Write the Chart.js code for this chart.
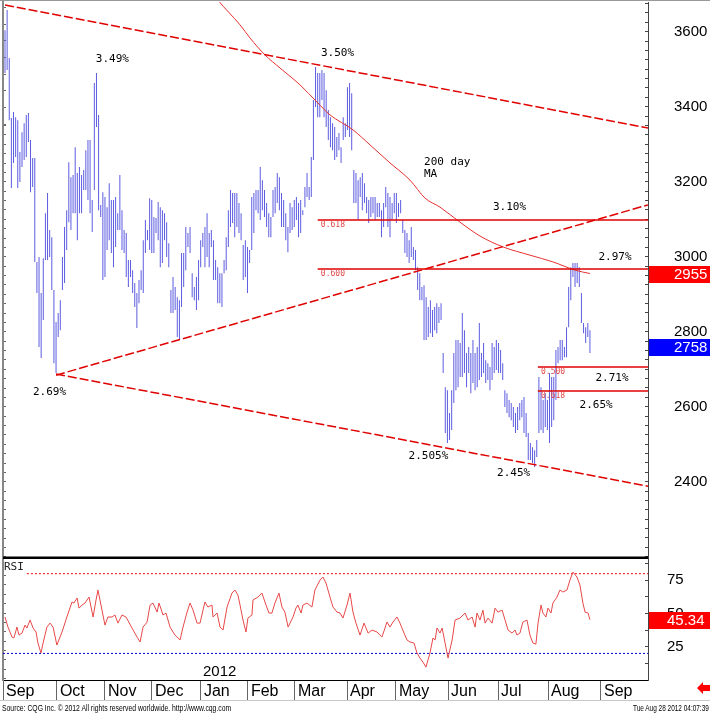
<!DOCTYPE html>
<html>
<head>
<meta charset="utf-8">
<script src="https://cdn.jsdelivr.net/npm/chart.js@4.4.1/dist/chart.umd.min.js"></script>
<style>
  body { margin: 0; background: #fff; }
  #wrap { position: relative; width: 710px; height: 716px; overflow: hidden; background: #fff; }
  canvas { position: absolute; left: 0; top: 0; }
  .foot { position: absolute; top: 703px; font: 9px "Liberation Sans Narrow", "Liberation Sans", Arial, sans-serif; white-space: nowrap; color: #000; transform-origin: 0 0; }
  #rule { position: absolute; left: 0; top: 700px; width: 710px; height: 1px; background: #c8c8c8; }
  #topline { position: absolute; left: 0; top: 0; width: 710px; height: 1px; background: #999; }
  #arrow { position: absolute; left: 697px; top: 682px; }
</style>
</head>
<body>
<div id="wrap">
  <canvas id="chart" width="710" height="716"></canvas>
  <div id="topline"></div>
  <div id="rule"></div>
  <svg id="arrow" width="13" height="12"><polygon points="0,6 6,0 6,3 13,3 13,9 6,9 6,12" fill="#f00"/></svg>
  <div id="src" class="foot">Source: CQG Inc. © 2012 All rights reserved worldwide. http://www.cqg.com</div>
  <div id="stamp" class="foot">Tue Aug 28 2012 04:07:39</div>
</div>
<script>
// --- DATA ---
// x values are trading-day indexes (0 = first bar)
const monthNames = ["Sep", "Oct", "Nov", "Dec", "Jan", "Feb", "Mar", "Apr", "May", "Jun", "Jul", "Aug", "Sep"];
const monthIdx = [-0.94, 24.4, 47.0, 69.1, 92.1, 114.2, 136.3, 160.8, 183.8, 208.3, 231.8, 255.3, 280.2];
const xMin = -0.94, xMax = 302.3;
const yearText = "2012", yearIdx = 93.1;

// daily bars, high / low
const highs = [3604,3658,3530,3370,3386,3372,3364,3279,3332,3356,3378,3383,3311,3263,3263,2986,2999,2903,2996,3116,
  3170,3071,3052,2911,2826,2850,2884,2999,3079,3124,3252,3212,3218,3292,3223,3239,3218,3231,3284,3311,
  3311,3151,3463,3490,3378,3138,3172,3159,3132,3196,3151,3151,3159,3116,3218,3124,3071,3063,2991,2991,
  2964,2930,2903,2938,2964,3044,3098,3071,3156,3151,3106,3103,3146,3132,3124,3116,3092,3036,2911,2946,
  2919,2892,2884,3010,3010,3079,3063,3079,2956,2919,2946,2991,3044,3063,3079,3116,3063,3071,3044,2991,
  2972,2956,2956,2991,3052,3124,3178,3170,3170,3170,3143,3116,3031,3044,3026,3018,3159,3170,3178,3178,
  3239,3204,3178,3143,3116,3106,3178,3186,3223,3212,3170,3151,3116,3079,3143,3132,3151,3159,3143,3151,
  3124,3186,3223,3186,3266,3418,3506,3490,3490,3498,3490,3444,3391,3372,3356,3346,3319,3330,3292,3372,
  3356,3452,3463,3436,3231,3223,3204,3212,3223,3196,3159,3151,3159,3159,3159,3143,3143,3124,3143,3186,
  3170,3159,3143,3170,3170,3143,3151,3098,3071,3063,3044,3079,3026,3018,2972,2956,2919,2924,2892,2866,
  2884,2858,2866,2876,2866,2876,2743,2652,2644,2583,2644,2743,2778,2778,2770,2850,2804,2743,2759,2743,
  2778,2743,2759,2823,2743,2770,2724,2716,2706,2770,2759,2778,2770,2751,2716,2644,2636,2618,2610,2599,
  2583,2599,2610,2618,2626,2583,2530,2503,2492,2484,2511,2679,2652,2618,2636,2618,2690,2679,2679,2751,
  2759,2778,2778,2759,2812,2919,2972,2983,2983,2983,2972,2903,2823,2812,2823,2804];
const lows = [3490,3498,3364,3183,3250,3266,3183,3199,3239,3258,3266,3306,3172,3186,2986,2903,2759,2730,2831,2991,
  2991,2999,2911,2716,2690,2786,2804,2911,2930,3018,3092,3071,3116,3116,3044,3116,3116,3178,3178,3151,
  3116,3066,3178,3346,3124,3106,2938,2946,3018,3044,3010,2972,3026,3071,3071,3018,3010,2946,2919,2946,
  2903,2866,2810,2876,2911,2903,3010,3044,3018,3010,3010,3063,3044,2972,2983,3044,2999,2972,2850,2850,
  2858,2786,2778,2866,2919,2964,3026,3010,2892,2884,2858,2884,2972,3026,2972,2999,2972,3026,2938,2938,
  2876,2876,2866,2956,2964,3026,3079,3090,3052,3079,3063,3044,2938,2946,2903,2983,3018,3063,3124,3116,
  3098,3124,3106,3079,3052,3052,3106,3116,3143,3124,3079,3079,3044,3012,3063,3071,3079,3098,3052,3063,
  3111,3132,3159,3151,3159,3258,3399,3372,3372,3418,3372,3346,3311,3292,3284,3258,3266,3284,3250,3311,
  3319,3338,3319,3284,3143,3143,3098,3159,3124,3143,3116,3090,3106,3116,3098,3106,3106,3052,3079,3132,
  3079,3052,3098,3116,3090,3106,3116,3063,3010,2999,2983,2999,2991,2964,2911,2884,2884,2778,2778,2786,
  2796,2786,2804,2796,2823,2831,2690,2530,2503,2511,2538,2610,2644,2652,2679,2679,2690,2652,2690,2636,
  2663,2644,2652,2671,2679,2690,2663,2671,2644,2671,2690,2698,2690,2690,2671,2599,2583,2572,2564,2546,
  2530,2538,2564,2572,2530,2519,2458,2458,2450,2439,2466,2530,2538,2530,2546,2538,2503,2546,2564,2618,
  2716,2724,2724,2732,2732,2812,2884,2946,2919,2930,2919,2823,2796,2770,2786,2743];

// 200 day moving average
const maIdx = [98.3, 100.1, 110.5, 115.2, 122.2, 129.3, 138.7, 146.7, 152.8, 163.6, 171.6, 181, 190.4, 197.5, 204.5, 213.9, 223.3, 234.1, 246.8, 257.6, 268, 275];
const maVal = [3698, 3684, 3618, 3583, 3538, 3503, 3458, 3412, 3378, 3338, 3298, 3250, 3204, 3156, 3132, 3092, 3055, 3026, 3004, 2986, 2964, 2955];

// RSI
const rsiIdx = [0,1.4,3.3,4.2,5.6,6.6,8,9.4,10.3,11.8,13.2,14.6,15.5,16.9,17.9,19.7,21.2,22.6,24.4,26.8,
  29.1,31.5,32.4,33.9,34.8,36.2,37.6,39.5,41.4,42.8,43.7,45.6,47,48.4,50.3,51.7,53.1,55,56.9,59.7,
  62.1,63.5,64.9,66.8,68.2,69.6,71.5,72.4,74.3,75.7,77.6,79.9,82.3,83.7,85.6,87,88.4,90.3,91.7,93.1,
  94,95.4,97.3,97.8,99.7,101.1,102.5,104.4,106.7,108.1,109.5,110.5,111.9,113.3,114.2,116.1,116.6,118.9,120.8,122.2,
  124.1,125.5,126.9,128.8,130.2,131.6,133.1,135.4,136.8,137.7,139.2,140.1,142,144.3,145.7,148.1,149.5,150.9,152.8,154.2,
  156.1,157.5,158.9,160.8,162.2,163.6,165,166.9,168.8,170.7,172.5,174.9,177.2,179.6,181,182.4,184.3,185.7,187.6,189,
  190.4,192.3,193.7,195.1,196.5,197.9,199.8,201.2,202.2,203.1,204.5,205.5,206.9,208.3,210.2,211.6,213.9,216.3,217.7,219.6,
  221,221.9,223.3,224.7,225.7,227.1,229,230.4,231.8,233.7,235.1,236.5,238.4,239.8,240.7,242.1,243.5,245.4,246.8,248.2,
  249.6,250.6,252,252.9,254.3,255.3,256.7,257.6,259.5,260.9,262.3,264.2,265.6,267,268.9,270.3,271.7,272.7,274.1,275];
const rsiVal = [47.4,39.8,32.3,31.6,39.8,33.8,35.3,41.3,39.1,45.1,39.1,36.1,27.8,20.3,27.8,39.8,42.8,39.8,26.3,36.1,
  47.4,58.7,57.9,61.7,54.1,56.4,57.9,62.4,47.4,60.2,67.7,52.6,41.3,47.4,47.4,48.9,42.8,48.9,47.4,39.1,
  32.3,28.6,39.8,43.6,56.4,57.9,51.1,57.9,48.9,50.4,39.8,33.8,30.1,39.8,51.1,57.9,52.6,42.8,42.8,52.6,
  58.7,54.9,56.4,47.4,50.4,39.8,37.6,54.9,65.4,67.7,63.9,56.4,45.1,36.1,46.6,48.9,60.2,62.4,65.4,58.7,
  50.4,50.4,57.9,65.4,54.9,51.1,39.8,47.4,54.1,56.4,50.4,56.4,57.9,54.9,67.7,75.2,77.5,73,62.4,54.9,
  51.1,50.4,46.6,56.4,65.4,51.1,42.8,33.8,42.8,35.3,37.6,36.1,32.3,43.6,39.8,43.6,47.4,42.8,35.3,30.1,
  28.6,27.8,20.3,16.5,13.5,9.7,20.3,31.6,30.1,39.1,35.3,39.1,27.8,16.5,30.1,45.1,46.6,50.4,45.1,47.4,
  39.8,50.4,45.1,52.6,42.8,46.6,42.8,54.1,51.1,52.6,45.1,37.6,35.3,37.6,33.8,35.3,43.6,45.1,33.8,27.8,
  27,42.8,56.4,50.4,47.4,54.1,50.4,57.9,62.4,67.7,66.2,67.7,75.2,81.2,77.5,71.5,57.9,51.1,50.4,45.34];
const rsiUpper = 80, rsiLower = 20;

// trend channel (dashed)
const trendStartIdx = [0, 24, 24];
const trendStartVal = [3671, 2687, 2684];
const trendEndVal = [3343, 2388, 3138];

// retracement levels
const levelVal = [3098, 2967, 2706, 2642];
const levelFrom = [147, 147, 250.5, 250.5];
const fibText = ["0.618", "0.600", "0.500", "0.618"];

// text notes on the price panel
const noteText = ["3.49%", "3.50%", "200 day", "MA", "3.10%", "2.97%", "2.71%", "2.65%", "2.69%", "2.505%", "2.45%"];
const noteIdx = [50.5, 156.3, 207.9, 200.1, 237.2, 286.8, 285.4, 277.9, 20.9, 199.1, 239.1];
const noteVal = [3527, 3543, 3252, 3219, 3132, 2999, 2676, 2603, 2639, 2467, 2423];

// last values shown on the axis
const lastMA = 2955, lastPrice = 2758, lastRsi = 45.34;

// --- CHART ---
const RED = "#e00000";
const line = (pts, color, width, dash, yAxisID = "y") => ({
  type: "line", data: pts, borderColor: color, borderWidth: width, borderDash: dash,
  pointRadius: 0, fill: false, yAxisID, tension: 0
});

const datasets = [];
trendStartIdx.forEach((s, i) => datasets.push(line([{ x: s, y: trendStartVal[i] }, { x: xMax, y: trendEndVal[i] }], RED, 1.5, [9, 3])));
levelVal.forEach((v, i) => datasets.push(line([{ x: levelFrom[i], y: v }, { x: xMax, y: v }], RED, 1.5, [])));
datasets.push({ ...line(maIdx.map((x, i) => ({ x, y: maVal[i] })), "#e83030", 1, []), cubicInterpolationMode: "monotone" });
datasets.push(line(rsiIdx.map((x, i) => ({ x, y: rsiVal[i] })), "#e84848", 1, [], "yRsi"));
datasets.push(line([{ x: 10.3, y: rsiUpper }, { x: xMax, y: rsiUpper }], "#f00000", 1, [2, 2], "yRsi"));
datasets.push(line([{ x: xMin, y: rsiLower }, { x: xMax, y: rsiLower }], "#0000c8", 1, [2, 2], "yRsi"));
datasets.push({
  type: "bar", yAxisID: "y",
  data: highs.map((h, i) => ({ x: i, y: [lows[i], h] })),
  backgroundColor: "#5c5ce0", borderWidth: 0, barThickness: 1, inflateAmount: 0
});

const overlay = {
  id: "overlay",
  afterDatasetsDraw(chart) {
    const { ctx, chartArea: a, scales: { x, y, yRsi } } = chart;
    ctx.save();
    ctx.font = '8px "DejaVu Sans Mono"';
    ctx.fillStyle = "#e04848";
    ctx.textAlign = "left";
    ctx.textBaseline = "top";
    levelVal.forEach((v, i) => ctx.fillText(fibText[i], x.getPixelForValue(levelFrom[i] + 1.5), y.getPixelForValue(v) + 1));

    ctx.font = '11px "DejaVu Sans Mono"';
    ctx.fillStyle = "#000";
    ctx.textAlign = "center";
    ctx.textBaseline = "middle";
    noteText.forEach((t, i) => ctx.fillText(t, x.getPixelForValue(noteIdx[i]), y.getPixelForValue(noteVal[i])));

    // panel divider
    ctx.fillStyle = "#000";
    ctx.fillRect(a.left, yRsi.top - 1.5, a.right - a.left, 2.5);

    ctx.fillStyle = "#fff";
    ctx.fillRect(a.left + 1, yRsi.top + 2, 22, 14);
    ctx.fillStyle = "#222";
    ctx.textAlign = "left";
    ctx.fillText("RSI", a.left + 1, yRsi.top + 9);

    ctx.fillStyle = "#000";
    ctx.font = '15px "Liberation Sans"';
    ctx.fillText(yearText, x.getPixelForValue(yearIdx), yRsi.bottom - 8);
    ctx.restore();
  },
  afterDraw(chart) {
    const { ctx, scales: { y, yRsi } } = chart;
    const box = (scale, v, color, text, textX) => {
      const py = Math.round(scale.getPixelForValue(v));
      ctx.fillStyle = color;
      ctx.fillRect(scale.left + 1, py - 8, chart.width - scale.left - 1, 17);
      ctx.fillStyle = "#fff";
      ctx.fillText(text, textX, py + 1);
    };
    ctx.save();
    ctx.font = '15px "Liberation Sans"';
    ctx.textAlign = "left";
    ctx.textBaseline = "middle";
    box(y, lastMA, "#ff0000", String(lastMA), 674);
    box(y, lastPrice, "#0000ff", String(lastPrice), 674);
    box(yRsi, lastRsi, "#ff0000", lastRsi.toFixed(2), 667);
    ctx.restore();
  }
};

const tickFont = { family: "Liberation Sans", size: 15 };
const priceMin = 2196.5, priceMax = 3679, rsiMin = 0, rsiMax = 91.8;

// fixed axis sizes, and no extra edge padding from tick labels
const fixWidth = (w) => (axis) => { axis.width = w; axis.paddingTop = 0; axis.paddingBottom = 0; };

new Chart(document.getElementById("chart"), {
  data: { datasets },
  options: {
    responsive: false,
    animation: false,
    events: [],
    layout: { padding: { left: 0, right: 0, top: 2, bottom: 16 } },
    plugins: { legend: { display: false }, tooltip: { enabled: false } },
    scales: {
      x: {
        type: "linear", position: "bottom", min: xMin, max: xMax, offset: false,
        afterBuildTicks: (axis) => { axis.ticks = monthIdx.map(v => ({ value: v })); },
        afterFit: (axis) => { axis.height = 20; axis.paddingLeft = 0; axis.paddingRight = 0; },
        ticks: {
          callback: (v, i) => monthNames[i], autoSkip: false, maxRotation: 0,
          align: "start", labelOffset: 3, padding: -18,
          font: { family: "Liberation Sans", size: 16 }, color: "#000"
        },
        grid: { drawOnChartArea: false, drawTicks: true, tickLength: 20, color: "#666", offset: false },
        border: { display: true, color: "#000" }
      },
      y: {
        type: "linear", position: "right", stack: "p", stackWeight: 556,
        min: priceMin, max: priceMax,
        afterFit: fixWidth(62),
        ticks: {
          stepSize: 25, maxTicksLimit: 200, autoSkip: false, includeBounds: false,
          callback: (v) => (v % 200 === 0 && v > priceMin + 10 ? String(v) : ""),
          padding: 29, font: tickFont, color: "#000"
        },
        grid: { drawOnChartArea: false, tickLength: -3, color: "#444" },
        border: { display: true, color: "#444" }
      },
      yRsi: {
        type: "linear", position: "right", stack: "p", stackWeight: 122,
        min: rsiMin, max: rsiMax,
        afterFit: fixWidth(62),
        ticks: {
          stepSize: 12.5, autoSkip: false, includeBounds: false,
          callback: (v) => (v > 0 && v % 25 === 0 ? String(v) : ""),
          padding: 22, font: tickFont, color: "#000"
        },
        grid: { drawOnChartArea: false, tickLength: -3, color: "#444" },
        border: { display: true, color: "#444" }
      },
      yL: {
        type: "linear", position: "left", stack: "q", stackWeight: 556,
        min: priceMin, max: priceMax,
        afterFit: fixWidth(3),
        ticks: { display: false, stepSize: 25, maxTicksLimit: 200, includeBounds: false },
        grid: { drawOnChartArea: false, tickLength: -3, color: "#666" },
        border: { display: true, color: "#888", width: 2 }
      },
      yLR: {
        type: "linear", position: "left", stack: "q", stackWeight: 122,
        min: rsiMin, max: rsiMax,
        afterFit: fixWidth(3),
        ticks: { display: false, stepSize: 12.5, includeBounds: false },
        grid: { drawOnChartArea: false, tickLength: -3, color: "#666" },
        border: { display: true, color: "#888", width: 2 }
      }
    }
  },
  plugins: [overlay]
});

// footer text squeezed to the reference widths
function fitText(id, left, width) {
  const el = document.getElementById(id);
  el.style.left = left + "px";
  el.style.transform = "scaleX(" + (width / el.scrollWidth) + ")";
}
fitText("src", 2, 229);
fitText("stamp", 633, 76);
</script>
</body>
</html>
